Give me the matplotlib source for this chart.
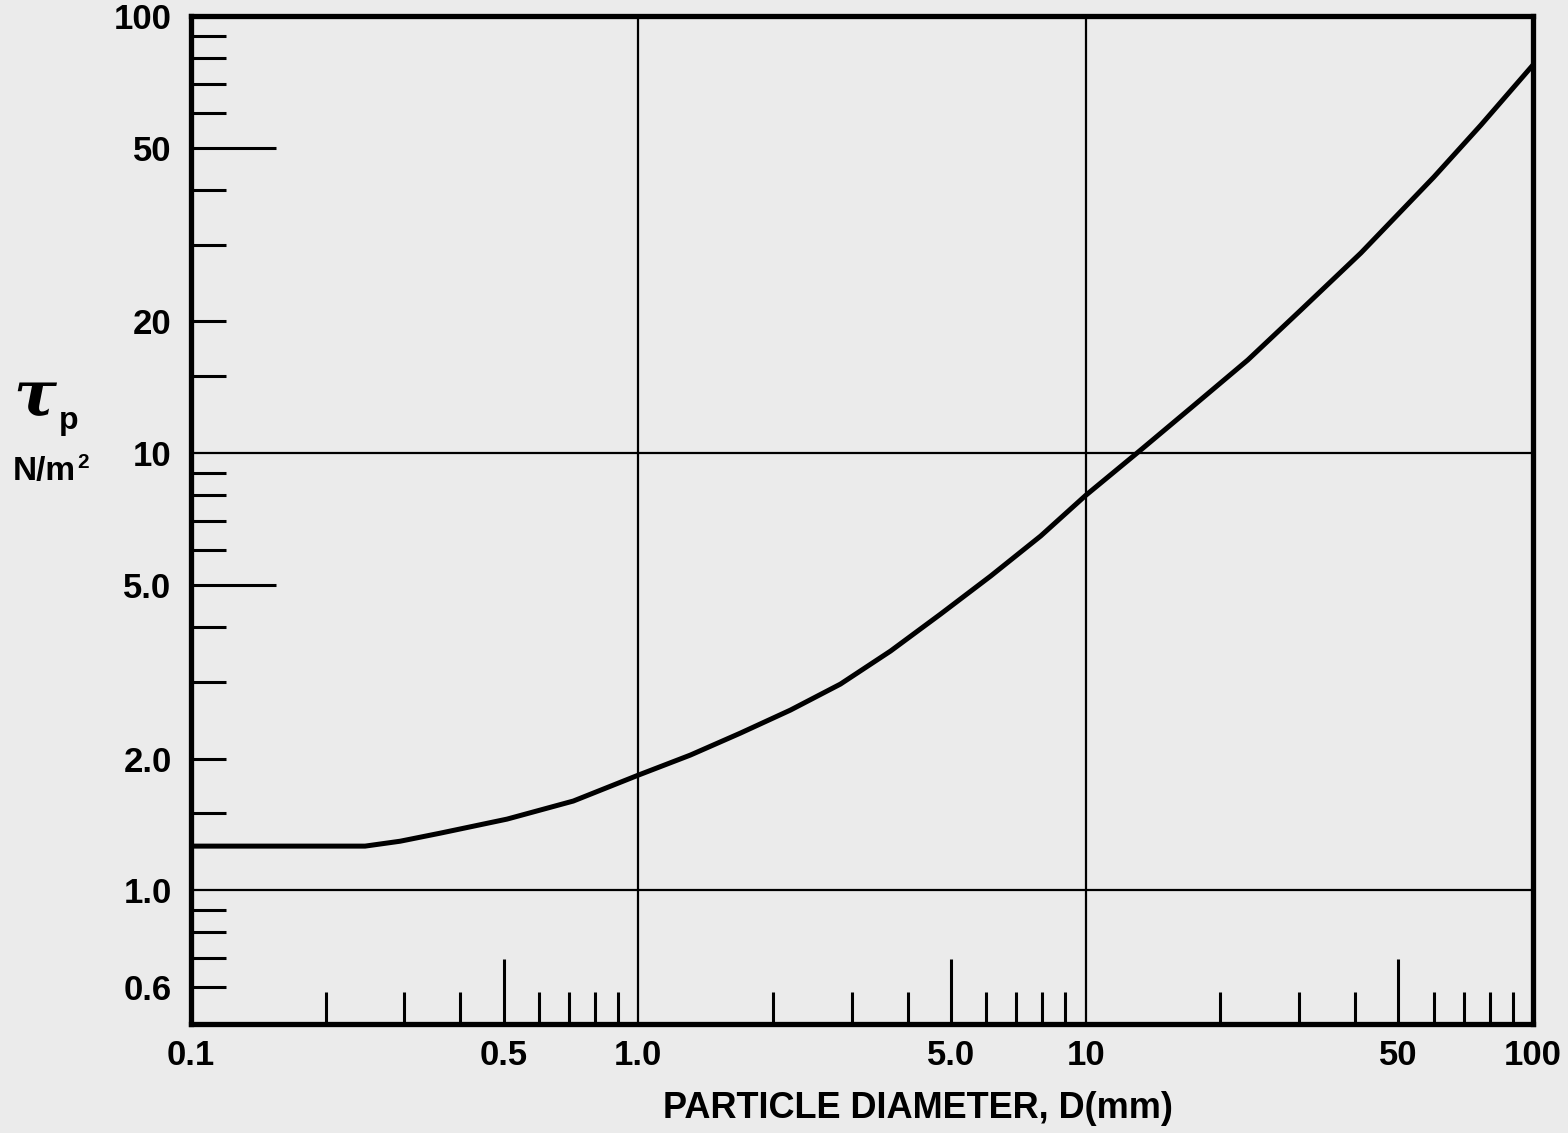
import matplotlib
matplotlib.use("Agg")
import matplotlib.pyplot as plt
from matplotlib.ticker import FixedLocator, FixedFormatter, NullLocator

# ---- data ----
diameter_mm = [0.1, 0.245, 0.2935, 0.3606, 0.509, 0.7155, 1.0, 1.307, 1.691,
               2.188, 2.830, 3.663, 4.738, 6.132, 7.930, 10.0, 13.27, 17.18,
               23.04, 30.27, 41.23, 60.03, 76.5, 100.0]
tau_p = [1.261, 1.261, 1.294, 1.350, 1.454, 1.599, 1.833, 2.037, 2.287,
         2.582, 2.961, 3.524, 4.281, 5.231, 6.458, 8.0, 10.16, 12.68,
         16.33, 21.24, 28.69, 42.81, 56.31, 77.26]

x_tick_values = [0.1, 0.2, 0.3, 0.4, 0.5, 0.6, 0.7, 0.8, 0.9, 1.0,
                 2, 3, 4, 5, 6, 7, 8, 9, 10,
                 20, 30, 40, 50, 60, 70, 80, 90, 100]
x_tick_labels = {0.1: "0.1", 0.5: "0.5", 1.0: "1.0", 5: "5.0", 10: "10", 50: "50", 100: "100"}
x_long = [0.5, 5, 50]
x_none = [0.1, 1.0, 10, 100]

y_tick_values = [0.6, 0.7, 0.8, 0.9, 1.0, 1.5, 2, 3, 4, 5, 6, 7, 8, 9, 10,
                 15, 20, 30, 40, 50, 60, 70, 80, 90, 100]
y_tick_labels = {0.6: "0.6", 1.0: "1.0", 2: "2.0", 5: "5.0", 10: "10", 20: "20", 50: "50", 100: "100"}
y_long = [5, 50]
y_none = [1.0, 10, 100]

grid_x = [1.0, 10]
grid_y = [1.0, 10]

x_label = "PARTICLE DIAMETER, D(mm)"

# ---- figure ----
W, H = 1568, 1133
fig = plt.figure(figsize=(W / 100, H / 100), dpi=100)
bg = "#ebebeb"
fig.patch.set_facecolor(bg)
ax = fig.add_axes([191 / W, 1 - 1024 / H, (1533 - 191) / W, (1024 - 16) / H])
ax.set_facecolor(bg)
ax.set_xscale("log")
ax.set_yscale("log")
ax.set_xlim(0.1, 100)
ax.set_ylim(0.494, 100)

for v in grid_x:
    ax.axvline(v, color="black", lw=1.6, zorder=1)
for v in grid_y:
    ax.axhline(v, color="black", lw=1.6, zorder=1)

ax.plot(diameter_mm, tau_p, color="black", lw=3.6, zorder=3,
        solid_joinstyle="round", solid_capstyle="butt")

for s in ax.spines.values():
    s.set_linewidth(3.8)
    s.set_color("black")
    s.set_zorder(4)

fam = ["Liberation Sans", "DejaVu Sans"]

ax.xaxis.set_minor_locator(NullLocator())
ax.yaxis.set_minor_locator(NullLocator())
ax.xaxis.set_major_locator(FixedLocator(x_tick_values))
ax.xaxis.set_major_formatter(FixedFormatter([x_tick_labels.get(v, "") for v in x_tick_values]))
ax.yaxis.set_major_locator(FixedLocator(y_tick_values))
ax.yaxis.set_major_formatter(FixedFormatter([y_tick_labels.get(v, "") for v in y_tick_values]))

ax.tick_params(axis="both", direction="in", width=2.2, color="black")
ax.tick_params(axis="x", pad=11, labelsize=25)
ax.tick_params(axis="y", pad=14, labelsize=25)
for lab in ax.get_xticklabels() + ax.get_yticklabels():
    lab.set_fontfamily(fam)
    lab.set_fontweight("bold")

xticks = ax.xaxis.get_major_ticks(len(x_tick_values))
for t, v in zip(xticks, x_tick_values):
    L = 0 if v in x_none else (47 if v in x_long else 23)
    t.tick1line.set_markersize(L)
    t.tick2line.set_visible(False)
yticks = ax.yaxis.get_major_ticks(len(y_tick_values))
for t, v in zip(yticks, y_tick_values):
    L = 0 if v in y_none else (61 if v in y_long else 25)
    t.tick1line.set_markersize(L)
    t.tick2line.set_visible(False)

# axis labels
fig.text(918 / W, 1 - 1108 / H, x_label, ha="center", va="center", fontsize=26,
         family=fam, weight="bold")
fig.text(35 / W, 1 - 398 / H, "τ", ha="center", va="center", fontsize=46,
         family=["DejaVu Serif"], style="italic", weight="bold", color="black")
fig.text(59 / W, 1 - 421 / H, "p", ha="left", va="center", fontsize=23,
         family=fam, weight="bold")
fig.text(13 / W, 1 - 471 / H, "N/m", ha="left", va="center", fontsize=24,
         family=fam, weight="bold")
fig.text(77 / W, 1 - 462 / H, "2", ha="left", va="center", fontsize=15,
         family=fam, weight="bold")

fig.savefig("out.png", dpi=100, facecolor=fig.get_facecolor())
